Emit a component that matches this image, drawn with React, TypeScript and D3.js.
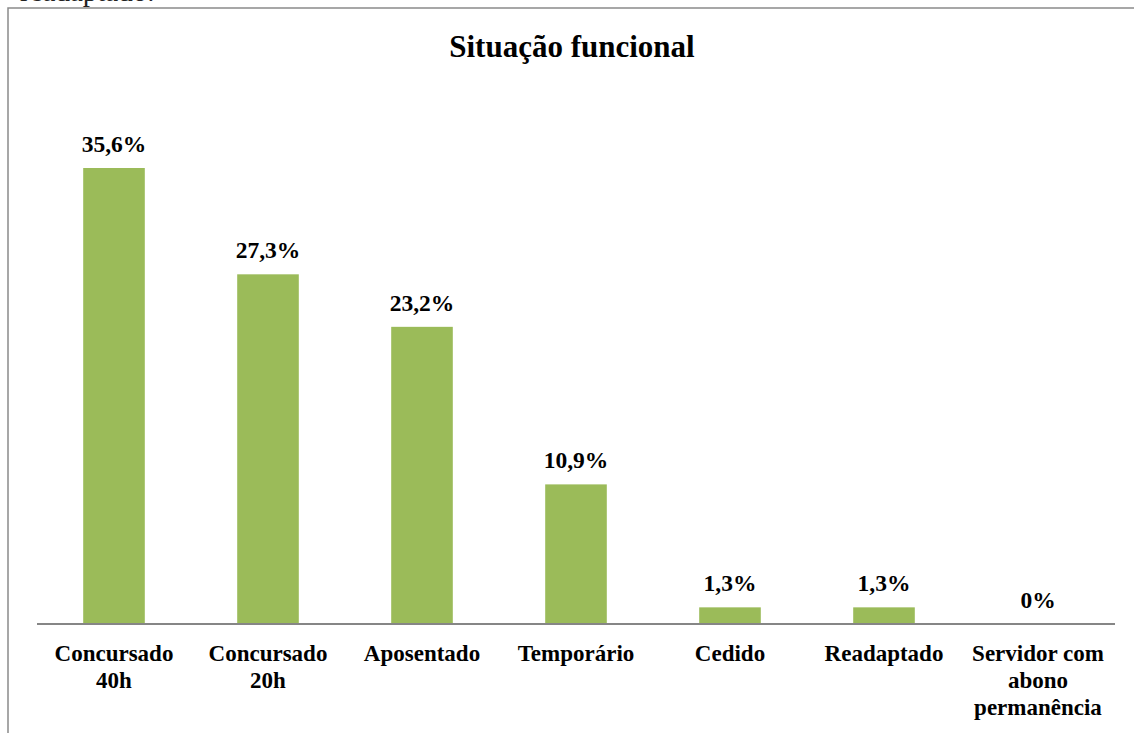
import React from "react";
import * as d3 from "d3";

// dados
const categorias = [
  "Concursado 40h",
  "Concursado 20h",
  "Aposentado",
  "Temporário",
  "Cedido",
  "Readaptado",
  "Servidor com abono permanência",
];
const rotulos = [
  ["Concursado", "40h"],
  ["Concursado", "20h"],
  ["Aposentado"],
  ["Temporário"],
  ["Cedido"],
  ["Readaptado"],
  ["Servidor com", "abono", "permanência"],
];
const percentuais = [35.6, 27.3, 23.2, 10.9, 1.3, 1.3, 0];
const textos = ["35,6%", "27,3%", "23,2%", "10,9%", "1,3%", "1,3%", "0%"];

const W = 1134;
const H = 733;
const FONT = "'Liberation Serif', 'Times New Roman', serif";

export default function App() {
  const x = d3.scaleBand<string>().domain(categorias).range([37, 1115]).paddingInner(0.6).paddingOuter(0.3);
  const y = d3.scaleLinear().domain([0, 35.6]).range([624, 168]);

  return (
    <svg
      width={W}
      height={H}
      style={{ position: "absolute", left: 0, top: 0, background: "#fff" }}
    >
      {/* texto cortado do documento acima */}
      <text x={20} y={1} fontFamily={FONT} fontSize={29} fill="#222">
        readaptado.
      </text>
      {/* moldura */}
      <path d={`M8,${H} L8,8 L${W},8`} fill="none" stroke="#8a8a8a" strokeWidth={1.5} />

      <text
        x={572}
        y={57}
        textAnchor="middle"
        fontFamily={FONT}
        fontWeight="bold"
        fontSize={31}
        fill="#000"
      >
        Situação funcional
      </text>

      {categorias.map((c, i) => (
        <rect
          key={c}
          x={x(c)}
          y={y(percentuais[i])}
          width={x.bandwidth()}
          height={y(0) - y(percentuais[i])}
          fill="#9bbb59"
        />
      ))}

      {categorias.map((c, i) => (
        <text
          key={"v" + c}
          x={(x(c) ?? 0) + x.bandwidth() / 2}
          y={y(percentuais[i]) - 16}
          textAnchor="middle"
          fontFamily={FONT}
          fontWeight="bold"
          fontSize={23.5}
          fill="#000"
        >
          {textos[i]}
        </text>
      ))}

      <line x1={37} x2={1115} y1={y(0)} y2={y(0)} stroke="#868686" strokeWidth={2} />

      {categorias.map((c, i) => (
        <text
          key={"c" + c}
          textAnchor="middle"
          fontFamily={FONT}
          fontWeight="bold"
          fontSize={23}
          fill="#000"
        >
          {rotulos[i].map((l, j) => (
            <tspan key={j} x={(x(c) ?? 0) + x.bandwidth() / 2} y={661 + j * 27}>
              {l}
            </tspan>
          ))}
        </text>
      ))}
    </svg>
  );
}
